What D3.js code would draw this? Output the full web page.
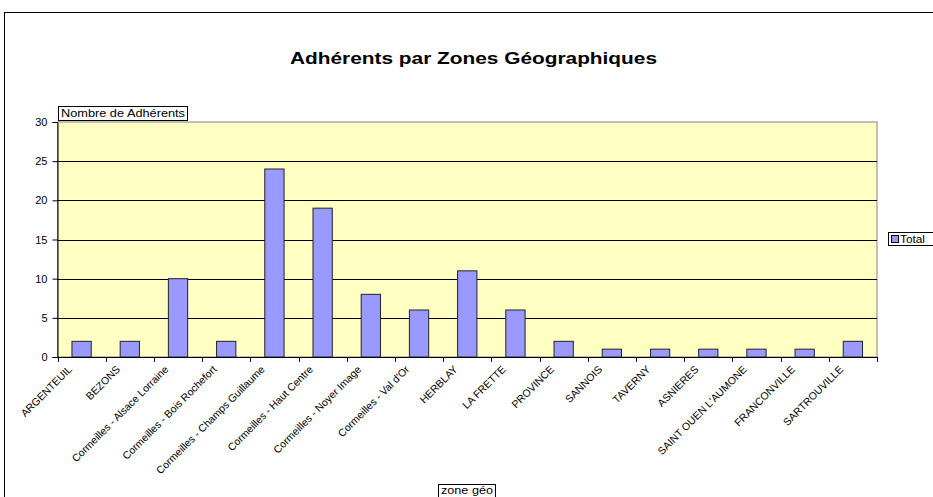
<!DOCTYPE html>
<html>
<head>
<meta charset="utf-8">
<script src="https://cdn.jsdelivr.net/npm/d3@7"></script>
<style>
  body { margin: 0; background: #fff; }
  svg { font-family: Arial, "Liberation Sans", sans-serif; }
</style>
</head>
<body>
<svg id="chart" width="933" height="497"></svg>
<script>
"use strict";

// Données du graphique
var zones = ["ARGENTEUIL", "BEZONS", "Cormeilles - Alsace Lorraine", "Cormeilles - Bois Rochefort",
  "Cormeilles - Champs Guillaume", "Cormeilles - Haut Centre", "Cormeilles - Noyer Image",
  "Cormeilles - Val d'Or", "HERBLAY", "LA FRETTE", "PROVINCE", "SANNOIS", "TAVERNY",
  "ASNIERES", "SAINT OUEN L'AUMONE", "FRANCONVILLE", "SARTROUVILLE"];
var totals = [2, 2, 10, 2, 24, 19, 8, 6, 11, 6, 2, 1, 1, 1, 1, 1, 2];
var yTicks = [0, 5, 10, 15, 20, 25, 30];

var svg = d3.select("#chart");

// Cadre extérieur
svg.append("rect")
  .attr("x", 4.5).attr("y", 12.5)
  .attr("width", 960).attr("height", 520)
  .attr("fill", "white")
  .attr("stroke", "black");

var plot = { left: 57.5, right: 877, top: 122, bottom: 357 };

var x = d3.scaleBand()
  .domain(zones)
  .range([plot.left, plot.right])
  .padding(0);

var y = d3.scaleLinear()
  .domain([0, 30])
  .range([plot.bottom, plot.top]);

// Fond de la zone de traçage
svg.append("rect")
  .attr("x", plot.left).attr("y", plot.top)
  .attr("width", plot.right - plot.left).attr("height", plot.bottom - plot.top)
  .attr("fill", "#ffffc4")
  .attr("stroke", "#808080");

// Quadrillage
svg.append("g")
  .selectAll("line")
  .data(yTicks.filter(function (d) { return d > 0 && d < 30; }))
  .enter()
  .append("line")
  .attr("x1", plot.left).attr("x2", plot.right)
  .attr("y1", function (d) { return Math.round(y(d)) + 0.5; })
  .attr("y2", function (d) { return Math.round(y(d)) + 0.5; })
  .attr("stroke", "black");

// Barres
var barW = x.bandwidth() * 0.4;
svg.append("g")
  .selectAll("rect")
  .data(totals)
  .enter()
  .append("rect")
  .attr("x", function (d, i) { return x(zones[i]) + (x.bandwidth() - barW) / 2; })
  .attr("y", function (d) { return y(d); })
  .attr("width", barW)
  .attr("height", function (d) { return y(0) - y(d); })
  .attr("fill", "#9999ff")
  .attr("stroke", "#222");

// Axe Y
var yAxis = svg.append("g")
  .attr("transform", "translate(" + plot.left + ",0)")
  .call(d3.axisLeft(y).tickValues(yTicks).tickSize(5).tickPadding(5));
yAxis.select(".domain").attr("stroke", "black");
yAxis.selectAll("text").style("font-size", "11px").attr("fill", "black");

// Axe X (graduations entre les catégories)
var boundaries = zones.map(function (z) { return x(z); }).concat([plot.right]);
var xAxis = svg.append("g");
xAxis.append("line")
  .attr("x1", plot.left).attr("x2", plot.right)
  .attr("y1", plot.bottom + 0.5).attr("y2", plot.bottom + 0.5)
  .attr("stroke", "black");
xAxis.selectAll("line.tick")
  .data(boundaries)
  .enter()
  .append("line")
  .attr("class", "tick")
  .attr("x1", function (d) { return Math.round(d) + 0.5; })
  .attr("x2", function (d) { return Math.round(d) + 0.5; })
  .attr("y1", plot.bottom).attr("y2", plot.bottom + 5)
  .attr("stroke", "black");

xAxis.selectAll("text")
  .data(zones)
  .enter()
  .append("text")
  .attr("transform", function (d) {
    return "translate(" + (x(d) + x.bandwidth() / 2 - 9) + "," + (plot.bottom + 13) + ") rotate(-45)";
  })
  .attr("text-anchor", "end")
  .style("font-size", "10.5px")
  .text(function (d) { return d; });

// Titre
svg.append("text")
  .attr("x", 290).attr("y", 64)
  .attr("textLength", 367)
  .attr("lengthAdjust", "spacingAndGlyphs")
  .style("font-size", "16px")
  .style("font-weight", "bold")
  .text("Adhérents par Zones Géographiques");

// Titre de l'axe Y dans un cadre
svg.append("rect")
  .attr("x", 58.5).attr("y", 106.5)
  .attr("width", 129).attr("height", 14)
  .attr("fill", "white").attr("stroke", "black");
svg.append("text")
  .attr("x", 61).attr("y", 117)
  .attr("textLength", 124)
  .attr("lengthAdjust", "spacingAndGlyphs")
  .style("font-size", "11px")
  .text("Nombre de Adhérents");

// Titre de l'axe X
svg.append("rect")
  .attr("x", 438.5).attr("y", 484.5)
  .attr("width", 57).attr("height", 16)
  .attr("fill", "white").attr("stroke", "black");
svg.append("text")
  .attr("x", 441).attr("y", 494)
  .attr("textLength", 52)
  .attr("lengthAdjust", "spacingAndGlyphs")
  .style("font-size", "11px")
  .text("zone géo");

// Légende
var legend = svg.append("g").attr("transform", "translate(888,232)");
legend.append("rect")
  .attr("x", 0.5).attr("y", 0.5)
  .attr("width", 60).attr("height", 13)
  .attr("fill", "white").attr("stroke", "black");
legend.append("rect")
  .attr("x", 3.5).attr("y", 3.5)
  .attr("width", 7).attr("height", 7)
  .attr("fill", "#9999ff").attr("stroke", "black");
legend.append("text")
  .attr("x", 12).attr("y", 11)
  .attr("textLength", 25)
  .attr("lengthAdjust", "spacingAndGlyphs")
  .style("font-size", "11px")
  .text("Total");
</script>
</body>
</html>
